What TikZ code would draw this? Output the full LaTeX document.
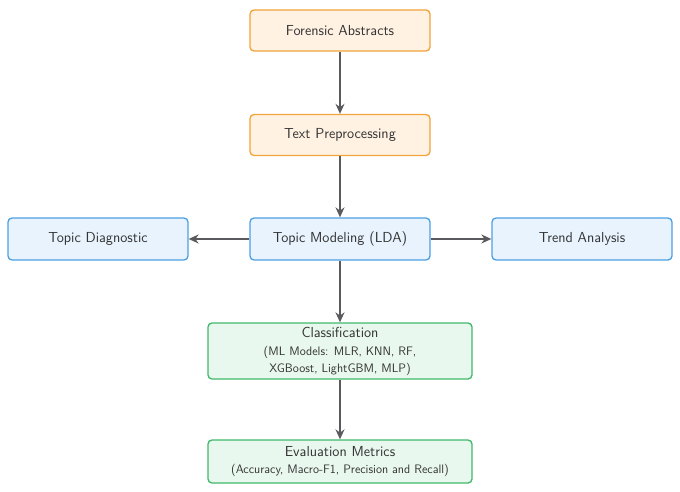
\documentclass[tikz,border=0pt]{standalone}
\usetikzlibrary{arrows.meta}
\definecolor{orangefill}{HTML}{FFF2E3}
\definecolor{orangeline}{HTML}{F2A33A}
\definecolor{bluefill}{HTML}{E8F3FD}
\definecolor{blueline}{HTML}{4C9FE3}
\definecolor{greenfill}{HTML}{E9F8EE}
\definecolor{greenline}{HTML}{3FB86A}
\definecolor{arrowgray}{HTML}{5A5A5E}
\begin{document}
\begin{tikzpicture}[x=1pt, y=-1pt,
		box/.style = {draw, rounded corners=4pt, line width=1.3pt, align=center,
			font=\sffamily\fontsize{14.5}{17}\selectfont, text=black!80, inner sep=0pt},
		inputbox/.style = {box, fill=orangefill, draw=orangeline, minimum width=180pt, minimum height=41pt},
		topicbox/.style = {box, fill=bluefill, draw=blueline, minimum width=180pt, minimum height=42pt},
		modelbox/.style = {box, fill=greenfill, draw=greenline, minimum width=264pt},
		flow/.style = {-{Stealth[length=10pt, width=9pt]}, line width=1.5pt, draw=arrowgray}]
		\useasboundingbox (0,0) rectangle (680,492);
		
		% input and preprocessing
		\node[inputbox] (abstracts) at (340,30.5) {Forensic Abstracts};
		\node[inputbox] (preproc) at (340,135) {Text Preprocessing};
		
		% topic modeling row
		\node[topicbox] (lda) at (340,239) {Topic Modeling (LDA)};
		\node[topicbox] (diag) at (98,239) {Topic Diagnostic};
		\node[topicbox] (trend) at (582,239) {Trend Analysis};
		
		% classification and evaluation
		\node[modelbox, minimum height=56pt] (classif) at (340,351) {Classification\\[1pt]
			{\fontsize{12.3}{16}\selectfont (ML Models: MLR, KNN, RF,}\\
			{\fontsize{12.3}{16}\selectfont XGBoost, LightGBM, MLP)}};
		\node[modelbox, minimum height=43pt] (evalm) at (340,461.5) {Evaluation Metrics\\
			{\fontsize{12.3}{16}\selectfont (Accuracy, Macro-F1, Precision and Recall)}};
		
		\draw[flow] (abstracts) -- (preproc);
		\draw[flow] (preproc) -- (lda);
		\draw[flow] (lda) -- (diag);
		\draw[flow] (lda) -- (trend);
		\draw[flow] (lda) -- (classif);
		\draw[flow] (classif) -- (evalm);
\end{tikzpicture}
\end{document}
